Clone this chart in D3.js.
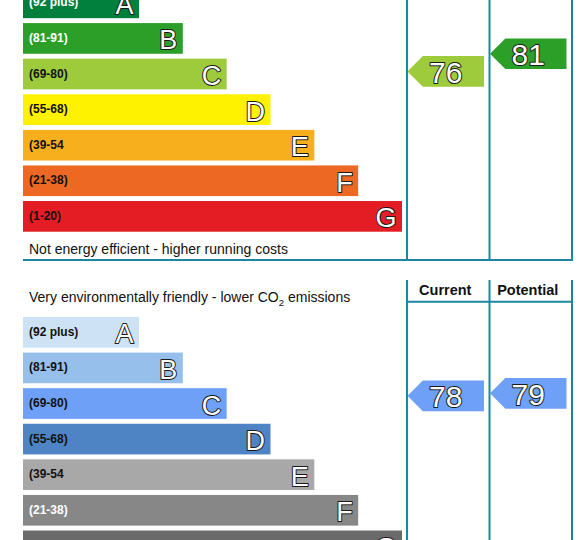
<!DOCTYPE html>
<html>
<head>
<meta charset="utf-8">
<script src="https://cdn.jsdelivr.net/npm/d3@7"></script>
<style>
  html, body { margin: 0; padding: 0; background: #fff; }
  svg { display: block; font-family: "Liberation Sans", Arial, sans-serif; }
</style>
</head>
<body>
<svg id="chart" width="586" height="540"></svg>
<script>
// ---- data ----
const bands = ["A", "B", "C", "D", "E", "F", "G"];
const rangeLabels = ["(92 plus)", "(81-91)", "(69-80)", "(55-68)", "(39-54", "(21-38)", "(1-20)"];
const bandLo = [92, 81, 69, 55, 39, 21, 1];
const bandHi = [100, 91, 80, 68, 54, 38, 20];
const energyColors = ["#007f3d", "#2c9f29", "#9dcb3c", "#fff200", "#f7af1d", "#ed6823", "#e31d23"];
const energyLabelColors = ["#ffffff", "#ffffff", "#111111", "#111111", "#111111", "#111111", "#111111"];
const envColors = ["#cde2f5", "#97bfec", "#6fa0f7", "#4f84c4", "#a8a8a8", "#878787", "#6a6a6a"];
const envLabelColors = ["#111111", "#111111", "#111111", "#111111", "#111111", "#ffffff", "#ffffff"];
const columns = ["Current", "Potential"];
const energyRatings = [76, 81];   // current, potential
const envRatings = [78, 79];      // current, potential
const energyBottomText = "Not energy efficient - higher running costs";

const svg = d3.select("#chart");
const lineColor = "#1b87a3";

const barRight = d3.scaleLinear().domain([0, bands.length - 1]).range([139, 402]);
const xCol = d3.scaleBand().domain(columns).range([407, 572]);
const barLeft = 23;

function bandOf(v) {
  for (let i = 0; i < bands.length; i++) if (v >= bandLo[i]) return i;
  return bands.length - 1;
}

function drawSection(g, top, colors, labelColors, ratings) {
  const y = d3.scaleBand().domain(bands).range([top, top + 244.2]).paddingInner(0.138).paddingOuter(0);
  const bw = y.bandwidth();

  const rows = g.selectAll("g.row").data(bands).join("g").attr("class", "row");
  rows.append("rect")
    .attr("x", barLeft)
    .attr("y", d => y(d))
    .attr("width", (d, i) => barRight(i) - barLeft)
    .attr("height", bw)
    .attr("fill", (d, i) => colors[i]);
  rows.append("text")
    .attr("x", 29)
    .attr("y", d => y(d) + bw / 2 + 3.5)
    .attr("font-size", 12)
    .attr("font-weight", "bold")
    .attr("fill", (d, i) => labelColors[i])
    .text((d, i) => rangeLabels[i]);
  rows.append("text")
    .attr("x", (d, i) => barRight(i) - 5.5)
    .attr("y", d => y(d) + bw - 4.3)
    .attr("text-anchor", "end")
    .attr("font-size", 27)
    .attr("fill", "#ffffff")
    .attr("stroke", "#1a1a1a")
    .attr("stroke-width", 2)
    .attr("stroke-linejoin", "round")
    .attr("paint-order", "stroke")
    .text(d => d);

  // rating arrows
  const arrows = g.selectAll("g.arrow").data(ratings).join("g").attr("class", "arrow");
  arrows.each(function (v, k) {
    const bi = bandOf(v);
    const by = d3.scaleLinear().domain([bandHi[bi] + 1, bandLo[bi]]).range([y(bands[bi]), y(bands[bi]) + bw]);
    const cy = by(v);
    const x0 = xCol(columns[k]) + 0.5;
    const x1 = xCol(columns[k]) + xCol.bandwidth() - 5.5;
    const h = bw;
    const tip = h / 2;
    const a = d3.select(this);
    a.append("path")
      .attr("d", `M${x0},${cy} L${x0 + tip},${cy - h / 2} L${x1},${cy - h / 2} L${x1},${cy + h / 2} L${x0 + tip},${cy + h / 2} Z`)
      .attr("fill", colors[bi]);
    a.append("text")
      .attr("x", (x0 + x1) / 2)
      .attr("y", cy + 11.5)
      .attr("text-anchor", "middle")
      .attr("font-size", 30)
      .attr("fill", "#ffffff")
      .attr("stroke", "#1a1a1a")
      .attr("stroke-width", 2)
      .attr("stroke-linejoin", "round")
      .attr("paint-order", "stroke")
      .text(v);
  });
  return y;
}

// ---- energy section ----
const gE = svg.append("g");
drawSection(gE, -12.5, energyColors, energyLabelColors, energyRatings);
gE.append("text").attr("x", 29).attr("y", 254).attr("font-size", 14).attr("fill", "#111").text(energyBottomText);
[407, 489.5, 572].forEach(x => {
  gE.append("line").attr("x1", x).attr("x2", x).attr("y1", -5).attr("y2", 260)
    .attr("stroke", lineColor).attr("stroke-width", 2);
});
gE.append("line").attr("x1", barLeft).attr("x2", 573).attr("y1", 260).attr("y2", 260)
  .attr("stroke", lineColor).attr("stroke-width", 2);

// ---- environmental section ----
const gV = svg.append("g");
const tV = gV.append("text").attr("x", 29).attr("y", 302).attr("font-size", 14).attr("fill", "#111");
tV.append("tspan").text("Very environmentally friendly - lower CO");
tV.append("tspan").attr("font-size", 9.5).attr("dy", 3.5).text("2");
tV.append("tspan").attr("dy", -3.5).text(" emissions");

drawSection(gV, 317, envColors, envLabelColors, envRatings);
[407, 489.5, 572].forEach(x => {
  gV.append("line").attr("x1", x).attr("x2", x).attr("y1", 280).attr("y2", 545)
    .attr("stroke", lineColor).attr("stroke-width", 2);
});
gV.append("line").attr("x1", 407).attr("x2", 572).attr("y1", 301.7).attr("y2", 301.7)
  .attr("stroke", lineColor).attr("stroke-width", 2);
gV.selectAll("text.colhead").data(columns).join("text")
  .attr("class", "colhead")
  .attr("x", d => xCol(d) + xCol.bandwidth() / 2 - 3)
  .attr("y", 295)
  .attr("text-anchor", "middle")
  .attr("font-size", 14.5)
  .attr("font-weight", "bold")
  .attr("fill", "#111")
  .text(d => d);
</script>
</body>
</html>
